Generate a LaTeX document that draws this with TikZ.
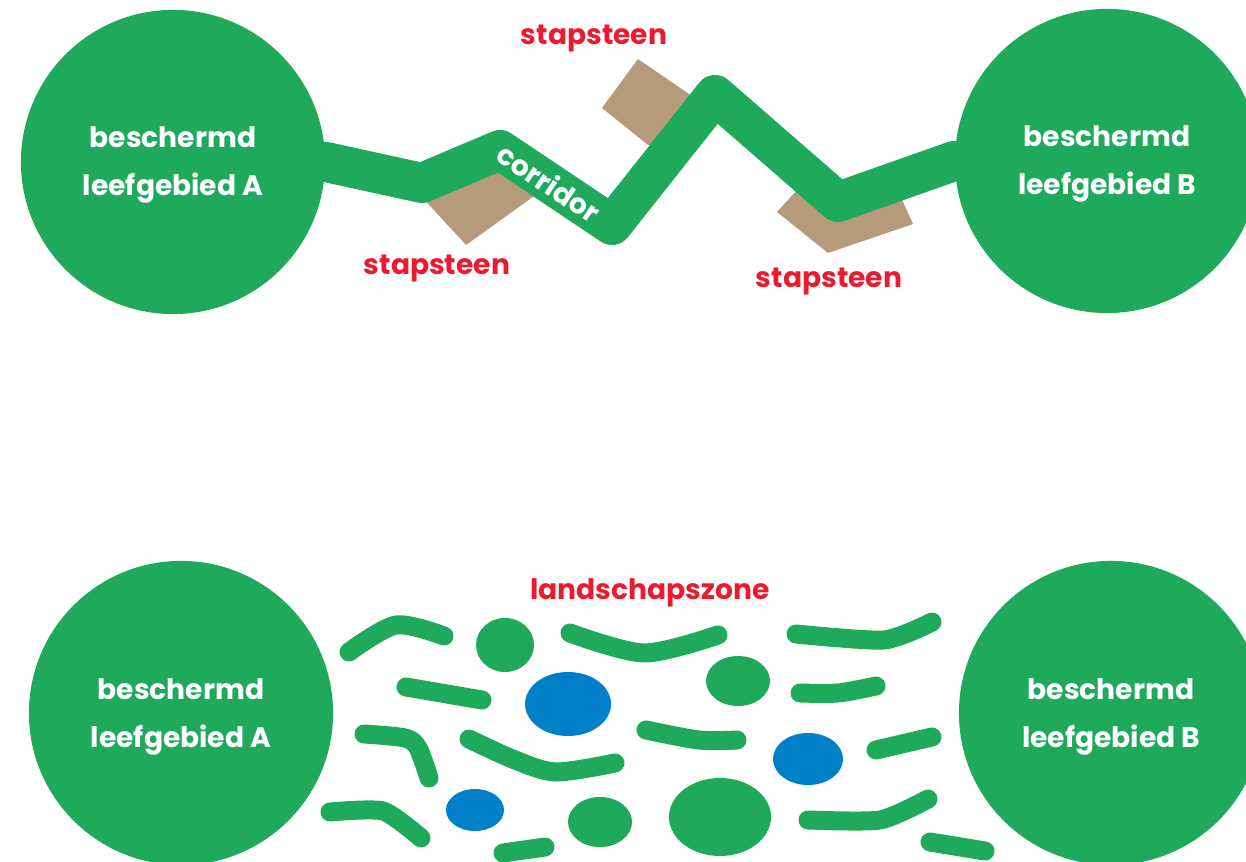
\documentclass[tikz,border=0pt]{standalone}
\usepackage{fontspec}
\setmainfont{Poppins}
\usepackage{tikz}
\usetikzlibrary{calc}
\definecolor{natuurgroen}{RGB}{30,170,90}
\definecolor{steenbruin}{RGB}{181,155,123}
\definecolor{labelrood}{RGB}{234,26,48}
\definecolor{waterblauw}{RGB}{0,128,200}
\tikzset{
  gebied/.style={circle, fill=natuurgroen, minimum size=3.04cm, inner sep=0pt},
  gebiedtekst/.style={text=white, align=center, inner sep=0pt,
    font=\bfseries\fontsize{8}{13.7}\selectfont},
  rodetekst/.style={text=labelrood, inner sep=0pt, font=\bfseries\fontsize{8}{10}\selectfont},
  corridorlijn/.style={draw=natuurgroen, line width=0.4cm, line join=round, line cap=round},
  steen/.style={fill=steenbruin},
  streep/.style={draw=natuurgroen, line width=0.19cm, line cap=round, line join=round},
  plas/.style={fill=waterblauw},
  bosje/.style={fill=natuurgroen}
}

\begin{document}
\begin{tikzpicture}[x=0.01cm, y=-0.01cm]
        \useasboundingbox (0,0) rectangle (1246,862);
        % Protected habitats (top)
        \node[gebied] (A1) at (173,162) {};
        \node[gebied] (B1) at (1107,161) {};
        \node[gebiedtekst] (A1t) at ($(A1)+(0,3)$) {beschermd\\leefgebied A};
        \node[gebiedtekst] (B1t) at ($(B1)+(0,3)$) {beschermd\\leefgebied B};
        % Define corridor bends
        \coordinate (k1) at (422,183);
        \coordinate (k2) at (500,150);
        \coordinate (k3) at (612,225);
        \coordinate (k4) at (715,95);
        \coordinate (k5) at (838,202);
        % Stepping stones
        \fill[steen] (420,195) -- (466,245) -- (537,194) -- (495,150) -- cycle;
        \fill[steen] (638,59) -- (602,108) -- (648,145) -- (670,152) -- (705,105) -- cycle;
        \fill[steen] (777,212) -- (828,253) -- (913,224) -- (895,184) -- (810,176) -- cycle;
        % Draw the corridor
        \draw[corridorlijn] (A1.east) -- (k1) -- (k2) -- (k3) -- (k4) -- (k5) -- (B1.west);
        \path (k2) -- (k3) node[pos=0.44, sloped, text=white, inner sep=0pt,
          font=\bfseries\fontsize{8}{10}\selectfont] (corr) {corridor};
        % Labels
        \node[rodetekst] (s1) at (594,38) {stapsteen};
        \node[rodetekst] (s2) at (437,268) {stapsteen};
        \node[rodetekst] (s3) at (829,281) {stapsteen};

        % Protected habitats (bottom)
        \node[gebied] (A2) at (181,713) {};
        \node[gebied] (B2) at (1111,713) {};
        \node[gebiedtekst] (A2t) at ($(A2)+(0,4)$) {beschermd\\leefgebied A};
        \node[gebiedtekst] (B2t) at ($(B2)+(0,4)$) {beschermd\\leefgebied B};
        \node[rodetekst] (zone) at (650,593) {landschapszone};
        % Landscape elements: hedges
        \draw[streep] plot[smooth] coordinates {(349,652) (396,625) (444,636)};
        \draw[streep] plot[smooth] coordinates {(570,633) (644,653) (718,635)};
        \draw[streep] plot[smooth, tension=0.4] coordinates {(796,634) (884,640) (932,622)};
        \draw[streep] (406,687) -- (482,700);
        \draw[streep] plot[smooth] coordinates {(800,693) (838,693) (876,686)};
        \draw[streep] plot[smooth, tension=0.5] coordinates {(364,734) (405,738) (418,748) (429,778)};
        \draw[streep] plot[smooth] coordinates {(469,739) (515,760) (556,772) (615,763)};
        \draw[streep] plot[smooth] coordinates {(646,730) (699,740) (737,740)};
        \draw[streep] (876,750) -- (932,737);
        \draw[streep] plot[smooth, tension=0.4] coordinates {(330,812) (383,811) (421,838)};
        \draw[streep] (503,853) -- (545,847);
        \draw[streep] plot[smooth, tension=0.4] coordinates {(808,820) (880,820) (928,799)};
        \draw[streep] (930,842) -- (985,851);
        % Landscape elements: groves and ponds
        \fill[bosje] (505,645) ellipse (0.29cm and 0.27cm);
        \fill[bosje] (738,681) ellipse (0.32cm and 0.25cm);
        \fill[bosje] (600,822) ellipse (0.32cm and 0.25cm);
        \fill[bosje] (720,817) ellipse (0.51cm and 0.39cm);
        \fill[plas] (568,704) ellipse (0.43cm and 0.32cm);
        \fill[plas] (808,759) ellipse (0.35cm and 0.26cm);
        \fill[plas] (475,810) ellipse (0.29cm and 0.21cm);
      \end{tikzpicture}
\end{document}
